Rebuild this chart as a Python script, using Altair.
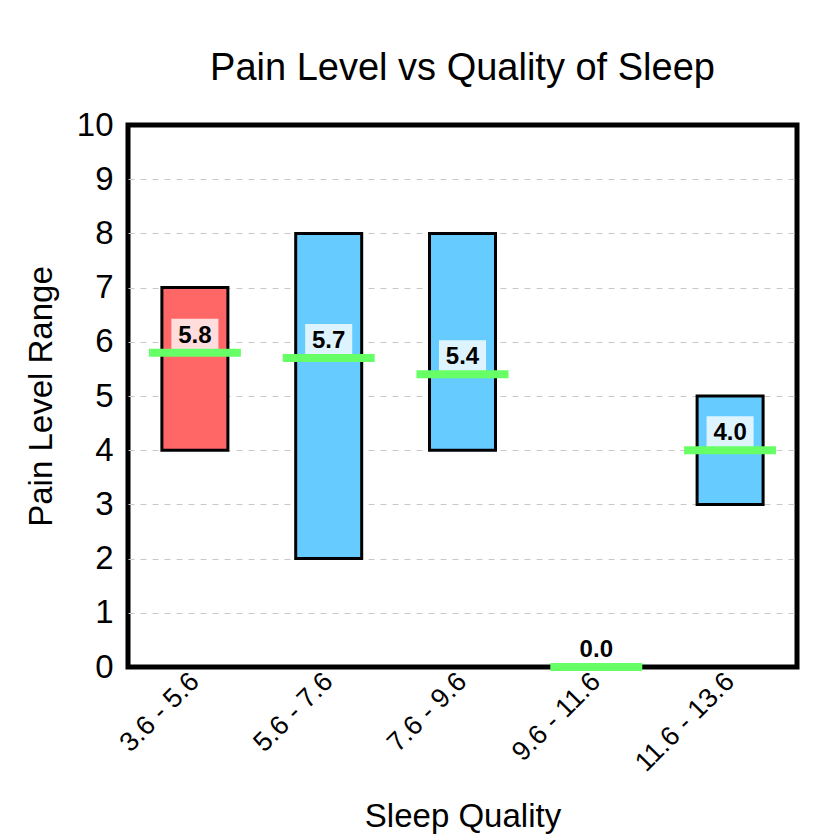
import altair as alt
import pandas as pd

categories = ["3.6 - 5.6", "5.6 - 7.6", "7.6 - 9.6", "9.6 - 11.6", "11.6 - 13.6"]
low_values = [4, 2, 4, 0, 3]
high_values = [7, 8, 8, 0, 5]
mean_values = [5.8, 5.7, 5.4, 0.0, 4.0]
bar_colors = ["#ff6666", "#66ccff", "#66ccff", "#66ccff", "#66ccff"]

df = pd.DataFrame({
    "cat": categories,
    "low": low_values,
    "high": high_values,
    "mean": mean_values,
    "color": bar_colors,
})
df["label"] = df["mean"].map(lambda v: f"{v:.1f}")

FONT = "Liberation Sans"

x = alt.X("cat:N", sort=categories, title="Sleep Quality",
          scale=alt.Scale(paddingInner=0.0, paddingOuter=0.0),
          axis=alt.Axis(labelAngle=-45, labelAlign="right", labelBaseline="middle",
                        labelFontSize=27, labelFont=FONT, labelColor="black",
                        labelPadding=10, ticks=False, domain=False,
                        titleFontSize=33, titleFont=FONT, titleFontWeight="normal",
                        titleColor="black", titlePadding=24))
y_scale = alt.Scale(domain=[0, 10], nice=False)

base = alt.Chart(df)

bars = base.mark_bar(size=66, stroke="black", strokeWidth=3).encode(
    x=x,
    y=alt.Y("low:Q", scale=y_scale, title="Pain Level Range",
            axis=alt.Axis(values=list(range(0, 11)), labelFontSize=33, labelFont=FONT,
                          labelColor="black", labelPadding=15, ticks=False, domain=False,
                          grid=True, gridDash=[6, 6], gridColor="#c8c8c8", gridWidth=1,
                          gridOpacity=alt.ExprRef(expr="datum.value == 0 || datum.value == 10 ? 0 : 1"),
                          titleFontSize=33, titleFont=FONT, titleFontWeight="normal",
                          titleColor="black", titlePadding=18)),
    y2="high:Q",
    color=alt.Color("color:N", scale=None),
)

label_box = base.mark_point(
    shape="M -1.47 -1 L 1.47 -1 L 1.47 1 L -1.47 1 Z", size=1024, filled=True,
    fill="white", strokeWidth=0, yOffset=-18, opacity=0.78,
).encode(
    x=alt.X("cat:N", sort=categories),
    y=alt.Y("mean:Q", scale=y_scale),
)

mean_line = base.mark_tick(size=92, thickness=8, color="#66ff66", opacity=1).encode(
    x=alt.X("cat:N", sort=categories),
    y=alt.Y("mean:Q", scale=y_scale),
)

label_text = base.mark_text(fontSize=24, fontWeight="bold", font=FONT, color="black",
                            baseline="middle", yOffset=-17).encode(
    x=alt.X("cat:N", sort=categories),
    y=alt.Y("mean:Q", scale=y_scale),
    text="label:N",
)

chart = alt.layer(bars, label_box, mean_line, label_text).properties(
    width=669, height=542,
    title=alt.TitleParams("Pain Level vs Quality of Sleep", fontSize=38, font=FONT,
                          fontWeight="normal", color="black", anchor="middle", offset=21),
    autosize=alt.AutoSizeParams(type="none"),
    padding={"left": 120, "top": 117, "right": 30, "bottom": 170},
    background="white",
).configure_view(stroke="black", strokeWidth=5)

chart.save("out.html", embed_options={"renderer": "svg", "actions": False})
